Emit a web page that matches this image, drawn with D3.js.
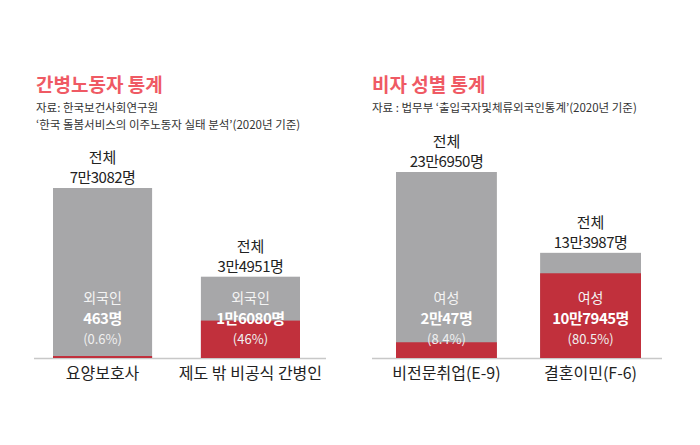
<!DOCTYPE html>
<html>
<head>
<meta charset="utf-8">
<script src="https://cdn.jsdelivr.net/npm/d3@7"></script>
<style>
body { margin:0; background:#fff; }
text { font-family: "Noto Sans CJK KR", sans-serif; }
</style>
</head>
<body>
<svg id="chart" width="700" height="445"></svg>
<script>
// left panel data
var careCats = ["요양보호사", "제도 밖 비공식 간병인"];
var careTotal = [73082, 34951];
var careForeign = [463, 16080];
var careTotalLbl = ["7만3082명", "3만4951명"];
var careForeignLbl = ["463명", "1만6080명"];
var carePct = ["(0.6%)", "(46%)"];

// right panel data
var visaCats = ["비전문취업(E-9)", "결혼이민(F-6)"];
var visaTotal = [236950, 133987];
var visaFemale = [20047, 107945];
var visaTotalLbl = ["23만6950명", "13만3987명"];
var visaFemaleLbl = ["2만47명", "10만7945명"];
var visaPct = ["(8.4%)", "(80.5%)"];

var svg = d3.select("#chart");
var GRAY = "#a7a7a9", RED = "#c1303c";

function panel(opt) {
  var g = svg.append("g");
  g.append("text").attr("x", opt.tx).attr("y", 92).attr("fill", "#ef5a64")
    .attr("font-size", 19).attr("font-weight", "bold").text(opt.title);
  opt.src.forEach(function (s, i) {
    g.append("text").attr("x", opt.tx).attr("y", 112 + i * 17).attr("fill", "#333")
      .attr("font-size", 11.5).text(s);
  });
  var x = d3.scaleBand().domain(opt.cats).range(opt.xr).paddingInner(opt.pad);
  var y = d3.scaleLinear().domain([0, opt.max]).range([358, 358 - opt.h]);
  g.append("line").attr("x1", opt.base[0]).attr("x2", opt.base[1])
    .attr("y1", 358.5).attr("y2", 358.5).attr("stroke", "#c8c8c8").attr("stroke-width", 1.5);
  opt.cats.forEach(function (c, i) {
    var bx = x(c), bw = x.bandwidth(), cx = bx + bw / 2;
    g.append("rect").attr("x", bx).attr("width", bw)
      .attr("y", y(opt.total[i])).attr("height", 358 - y(opt.total[i])).attr("fill", GRAY);
    var ry = Math.min(y(opt.part[i]), 356);
    g.append("rect").attr("x", bx).attr("width", bw)
      .attr("y", ry).attr("height", 358 - ry).attr("fill", RED);
    var top = y(opt.total[i]);
    g.append("text").attr("x", cx).attr("y", top - 25).attr("text-anchor", "middle")
      .attr("font-size", 15).attr("fill", "#222").text("전체");
    g.append("text").attr("x", cx).attr("y", top - 5).attr("text-anchor", "middle")
      .attr("font-size", 15).attr("fill", "#222").attr("letter-spacing", -0.5).text(opt.totalLbl[i]);
    g.append("text").attr("x", cx).attr("y", 303).attr("text-anchor", "middle")
      .attr("font-size", 14).attr("fill", "#f4f4f4").text(opt.partName);
    g.append("text").attr("x", cx).attr("y", 324).attr("text-anchor", "middle")
      .attr("font-size", 15).attr("font-weight", "bold").attr("fill", "#fff")
      .attr("letter-spacing", -0.5).text(opt.partLbl[i]);
    g.append("text").attr("x", cx).attr("y", 344).attr("text-anchor", "middle")
      .attr("font-size", 13).attr("fill", "#f0f0f0").text(opt.pct[i]);
    g.append("text").attr("x", cx).attr("y", 379).attr("text-anchor", "middle")
      .attr("font-size", 16).attr("fill", "#222").text(c);
  });
}

panel({
  title: "간병노동자 통계", tx: 36,
  src: ["자료: 한국보건사회연구원", "‘한국 돌봄서비스의 이주노동자 실태 분석’(2020년 기준)"],
  cats: careCats, total: careTotal, part: careForeign,
  totalLbl: careTotalLbl, partLbl: careForeignLbl, pct: carePct, partName: "외국인",
  xr: [53, 300], pad: 0.33, max: 73082, h: 170, base: [34, 326]
});
panel({
  title: "비자 성별 통계", tx: 372,
  src: ["자료 : 법무부 ‘출입국자및체류외국인통계’(2020년 기준)"],
  cats: visaCats, total: visaTotal, part: visaFemale,
  totalLbl: visaTotalLbl, partLbl: visaFemaleLbl, pct: visaPct, partName: "여성",
  xr: [396, 641], pad: 0.3, max: 236950, h: 186, base: [372, 662]
});
</script>
</body>
</html>
